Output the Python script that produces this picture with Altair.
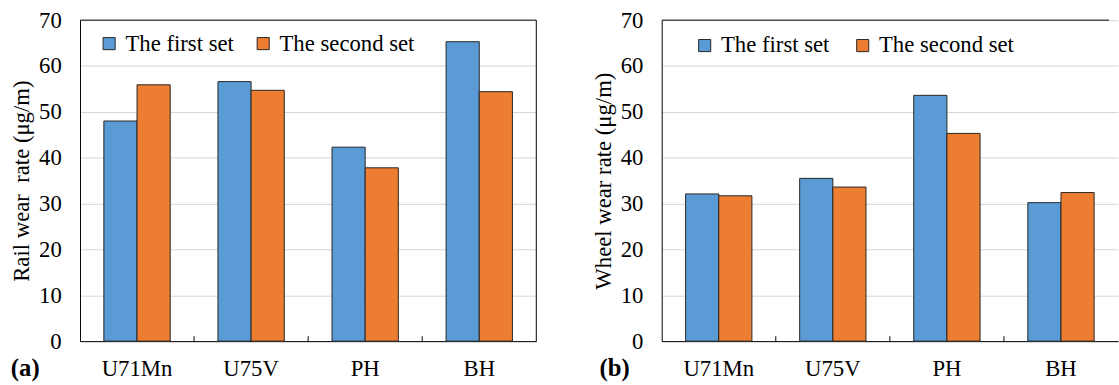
import altair as alt
import pandas as pd

# Materials on the x axis and the two test sets
categories = ["U71Mn", "U75V", "PH", "BH"]
sets = ["The first set", "The second set"]

# Wear rates in µg/m
rail_first = [48.0, 56.6, 42.3, 65.3]
rail_second = [55.9, 54.7, 37.8, 54.4]
wheel_first = [32.1, 35.5, 53.6, 30.2]
wheel_second = [31.7, 33.6, 45.3, 32.4]

BLUE = "#5B9BD5"
ORANGE = "#ED7D31"
FONT = "Liberation Serif"
FS = 23
H = 325


def panel(first, second, ytitle, letter, width, band_span, legend_x, legend_y,
          col_pad, right_border):
    df = pd.DataFrame({
        "Material": categories * 2,
        "Set": [sets[0]] * len(categories) + [sets[1]] * len(categories),
        "Rate": list(first) + list(second),
    })
    xscale = alt.Scale(domain=categories, paddingInner=0, paddingOuter=0,
                       range=[0, band_span])

    bars = alt.Chart(df).mark_bar(stroke="#262626", strokeWidth=1).encode(
        x=alt.X("Material:N", sort=categories, scale=xscale,
                axis=alt.Axis(title=None, labelAngle=0, ticks=False, tickSize=0,
                              labelPadding=17, domainColor="black",
                              domainWidth=1, labelFontSize=FS, labelFont=FONT,
                              labelColor="black")),
        xOffset=alt.XOffset("Set:N", sort=sets,
                            scale=alt.Scale(domain=sets, paddingInner=0,
                                            paddingOuter=0.72)),
        y=alt.Y("Rate:Q", scale=alt.Scale(domain=[0, 70], nice=False),
                axis=alt.Axis(values=list(range(0, 80, 10)), title=ytitle,
                              grid=True, gridColor="#d4d4d4", gridWidth=1,
                              ticks=False, tickSize=0, labelPadding=19,
                              domainColor="black", domainWidth=1,
                              labelFontSize=FS, labelFont=FONT,
                              labelColor="black", titleFont=FONT,
                              titleFontSize=FS, titleFontWeight="normal",
                              titleColor="black", titlePadding=5)),
        color=alt.Color("Set:N", sort=sets,
                        scale=alt.Scale(domain=sets, range=[BLUE, ORANGE]),
                        legend=alt.Legend(orient="none", legendX=legend_x,
                                          legendY=legend_y,
                                          direction="horizontal", title=None,
                                          labelFont=FONT, labelFontSize=FS,
                                          labelColor="black",
                                          symbolType="square", symbolSize=150,
                                          symbolStrokeColor="#262626",
                                          symbolStrokeWidth=1,
                                          symbolOpacity=1, labelOffset=5,
                                          columnPadding=col_pad, padding=0)),
    )

    # small upward ticks on the category boundaries
    bounds = pd.DataFrame({"Material": categories[1:]})
    seps = alt.Chart(bounds).mark_rule(color="black", strokeWidth=1).encode(
        x=alt.X("Material:N", sort=categories, bandPosition=0, scale=xscale),
        y=alt.value(H),
        y2=alt.value(H - 5),
    )

    one = pd.DataFrame({"t": [letter]})
    top_line = alt.Chart(one).mark_rule(color="black", strokeWidth=1).encode(
        x=alt.value(0), x2=alt.value(width), y=alt.value(0))
    tag = alt.Chart(one).mark_text(font=FONT, fontSize=25, fontWeight="bold",
                                   align="left", baseline="alphabetic",
                                   color="black").encode(
        text="t:N", x=alt.value(-70 if letter == "(a)" else -63),
        y=alt.value(H + 35))

    layers = [bars, seps, top_line, tag]
    if right_border:
        layers.append(alt.Chart(one).mark_rule(color="black", strokeWidth=1)
                      .encode(x=alt.value(width), y=alt.value(0),
                              y2=alt.value(H)))
    return alt.layer(*layers).properties(width=width, height=H)


left = panel(rail_first, rail_second, "Rail wear\u00a0 rate (μg/m)", "(a)",
             462, 462, 18, 12, 18, True)
right = panel(wheel_first, wheel_second, "Wheel wear rate (μg/m)", "(b)",
              453, 462, 32, 14, 22, False)

chart = (
    alt.hconcat(left, right, spacing=55)
    .resolve_scale(color="independent", x="independent")
    .resolve_legend(color="independent")
    .properties(padding={"left": 10, "top": 6, "right": 0, "bottom": 0},
                background="white")
    .configure_view(stroke="transparent")
)

chart.save("out.html", embed_options={"renderer": "svg", "actions": False})
